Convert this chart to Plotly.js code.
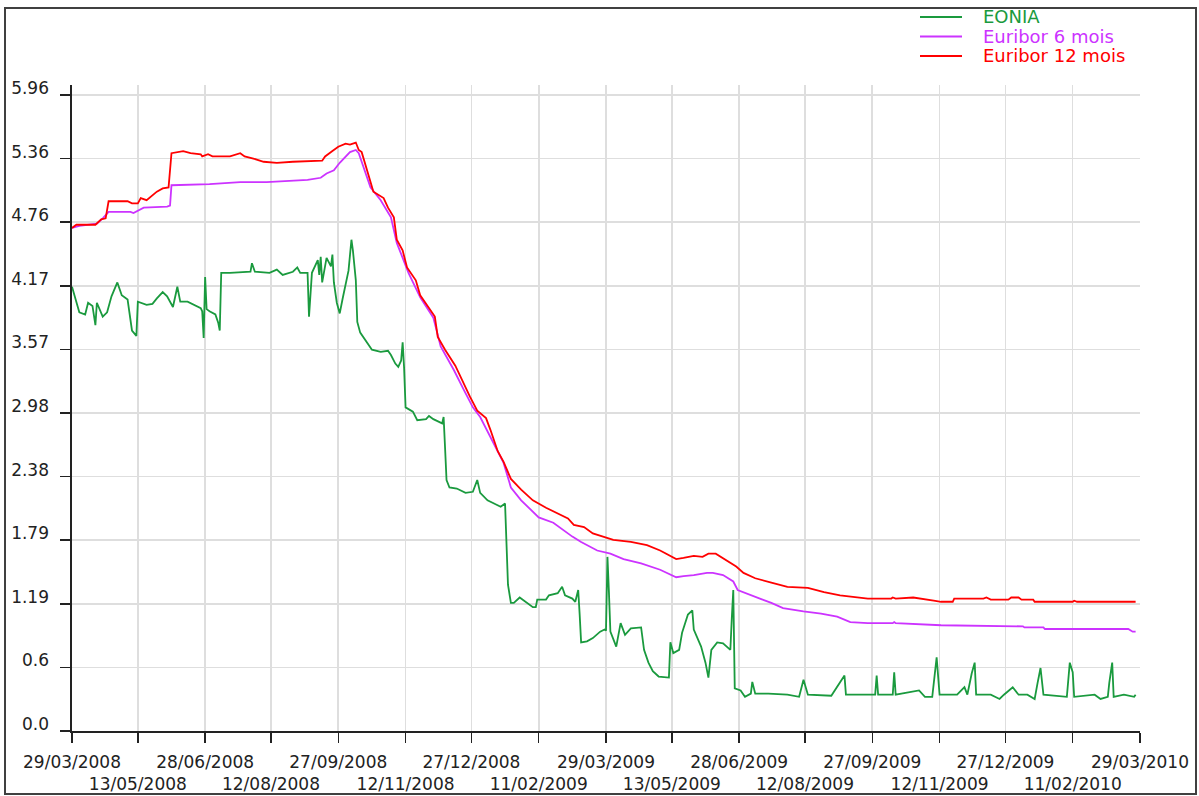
<!DOCTYPE html>
<html>
<head>
<meta charset="utf-8">
<script src="https://cdn.plot.ly/plotly-3.0.1.min.js"></script>
<style>html,body{margin:0;padding:0;background:#fff;}#chart{width:1199px;height:796px;}</style>
</head>
<body>
<div id="chart"></div>
<script>
// ---- data ----
const eoniaDates = ["2008-03-29","2008-03-31","2008-04-03","2008-04-07","2008-04-09","2008-04-12","2008-04-14","2008-04-15","2008-04-19","2008-04-22","2008-04-25","2008-04-29","2008-05-02","2008-05-06","2008-05-09","2008-05-12","2008-05-13","2008-05-19","2008-05-23","2008-05-26","2008-05-30","2008-06-02","2008-06-06","2008-06-09","2008-06-11","2008-06-16","2008-06-20","2008-06-25","2008-06-26","2008-06-27","2008-06-28","2008-06-29","2008-07-01","2008-07-05","2008-07-07","2008-07-08","2008-07-09","2008-07-15","2008-07-29","2008-07-30","2008-08-01","2008-08-11","2008-08-16","2008-08-20","2008-08-27","2008-08-30","2008-09-01","2008-09-06","2008-09-07","2008-09-09","2008-09-13","2008-09-14","2008-09-15","2008-09-16","2008-09-19","2008-09-22","2008-09-23","2008-09-24","2008-09-26","2008-09-28","2008-09-30","2008-10-02","2008-10-04","2008-10-06","2008-10-07","2008-10-09","2008-10-10","2008-10-12","2008-10-17","2008-10-20","2008-10-26","2008-10-31","2008-11-02","2008-11-05","2008-11-07","2008-11-09","2008-11-10","2008-11-11","2008-11-12","2008-11-17","2008-11-20","2008-11-26","2008-11-28","2008-12-01","2008-12-07","2008-12-08","2008-12-09","2008-12-10","2008-12-12","2008-12-17","2008-12-23","2008-12-28","2008-12-31","2009-01-02","2009-01-07","2009-01-12","2009-01-16","2009-01-19","2009-01-20","2009-01-21","2009-01-23","2009-01-25","2009-01-29","2009-02-03","2009-02-07","2009-02-09","2009-02-10","2009-02-16","2009-02-18","2009-02-24","2009-02-27","2009-03-01","2009-03-06","2009-03-08","2009-03-10","2009-03-11","2009-03-12","2009-03-16","2009-03-20","2009-03-25","2009-03-28","2009-03-29","2009-03-30","2009-03-31","2009-04-01","2009-04-05","2009-04-08","2009-04-11","2009-04-15","2009-04-22","2009-04-24","2009-04-27","2009-04-30","2009-05-04","2009-05-11","2009-05-12","2009-05-14","2009-05-18","2009-05-20","2009-05-24","2009-05-27","2009-05-28","2009-06-02","2009-06-05","2009-06-07","2009-06-09","2009-06-13","2009-06-17","2009-06-22","2009-06-23","2009-06-24","2009-06-25","2009-06-29","2009-07-02","2009-07-06","2009-07-07","2009-07-09","2009-07-18","2009-07-31","2009-08-08","2009-08-11","2009-08-14","2009-08-30","2009-09-08","2009-09-09","2009-09-29","2009-09-30","2009-10-01","2009-10-11","2009-10-12","2009-10-13","2009-10-29","2009-11-02","2009-11-07","2009-11-10","2009-11-12","2009-11-24","2009-11-29","2009-12-01","2009-12-04","2009-12-06","2009-12-07","2009-12-17","2009-12-23","2009-12-26","2010-01-01","2010-01-05","2010-01-11","2010-01-16","2010-01-18","2010-01-20","2010-01-22","2010-02-07","2010-02-09","2010-02-11","2010-02-12","2010-02-26","2010-03-02","2010-03-07","2010-03-08","2010-03-10","2010-03-11","2010-03-18","2010-03-25","2010-03-26"];
const eoniaValues = [4.16,4.07,3.92,3.90,4.01,3.98,3.80,4.01,3.88,3.92,4.07,4.20,4.08,4.04,3.75,3.70,4.02,3.99,4.00,4.05,4.11,4.07,3.97,4.16,4.02,4.02,3.99,3.96,3.93,3.68,4.25,3.95,3.93,3.90,3.82,3.75,4.29,4.29,4.30,4.38,4.30,4.29,4.32,4.27,4.30,4.34,4.29,4.29,3.88,4.29,4.41,4.27,4.44,4.20,4.43,4.35,4.46,4.20,4.01,3.91,4.05,4.19,4.31,4.60,4.50,4.22,3.83,3.73,3.63,3.57,3.55,3.56,3.52,3.44,3.41,3.47,3.64,3.40,3.03,2.99,2.91,2.92,2.95,2.92,2.88,2.94,2.65,2.35,2.28,2.27,2.23,2.24,2.35,2.23,2.16,2.13,2.10,2.13,1.82,1.37,1.20,1.20,1.25,1.20,1.16,1.16,1.23,1.23,1.27,1.29,1.35,1.27,1.24,1.21,1.32,1.09,0.83,0.84,0.87,0.93,0.95,0.94,1.63,1.30,0.93,0.79,1.01,0.90,0.96,0.97,0.76,0.64,0.56,0.51,0.50,0.83,0.73,0.76,0.92,1.09,1.13,0.95,0.79,0.64,0.50,0.76,0.83,0.82,0.76,1.06,1.32,0.40,0.38,0.32,0.35,0.46,0.35,0.35,0.34,0.32,0.48,0.34,0.33,0.52,0.34,0.34,0.52,0.34,0.34,0.55,0.34,0.38,0.32,0.32,0.69,0.34,0.34,0.41,0.34,0.54,0.64,0.34,0.34,0.30,0.34,0.41,0.34,0.34,0.30,0.45,0.59,0.34,0.32,0.64,0.55,0.32,0.34,0.30,0.32,0.45,0.64,0.32,0.34,0.32,0.34];

const euribor6Dates = ["2008-03-29","2008-04-03","2008-04-15","2008-04-19","2008-04-23","2008-05-08","2008-05-10","2008-05-17","2008-06-02","2008-06-04","2008-06-05","2008-07-01","2008-07-22","2008-08-09","2008-09-06","2008-09-15","2008-09-19","2008-09-24","2008-09-28","2008-10-02","2008-10-05","2008-10-09","2008-10-11","2008-10-12","2008-10-15","2008-10-19","2008-10-26","2008-11-02","2008-11-06","2008-11-14","2008-11-22","2008-12-01","2008-12-06","2008-12-15","2008-12-22","2008-12-28","2009-01-02","2009-01-09","2009-01-18","2009-01-23","2009-01-30","2009-02-11","2009-02-21","2009-03-06","2009-03-12","2009-03-23","2009-04-01","2009-04-10","2009-04-22","2009-05-05","2009-05-16","2009-05-21","2009-05-28","2009-06-06","2009-06-10","2009-06-17","2009-06-24","2009-06-27","2009-07-06","2009-07-14","2009-07-20","2009-07-28","2009-08-11","2009-08-23","2009-09-03","2009-09-12","2009-09-24","2009-10-11","2009-10-12","2009-10-13","2009-11-13","2010-01-08","2010-01-09","2010-01-22","2010-01-23","2010-03-21","2010-03-24","2010-03-26"];
const euribor6Values = [4.71,4.73,4.75,4.80,4.86,4.86,4.85,4.90,4.91,4.92,5.11,5.12,5.14,5.14,5.16,5.18,5.22,5.25,5.32,5.38,5.42,5.44,5.41,5.37,5.25,5.09,4.97,4.81,4.57,4.29,4.06,3.87,3.60,3.38,3.19,3.03,2.94,2.75,2.51,2.28,2.16,2.00,1.95,1.82,1.77,1.69,1.66,1.61,1.57,1.51,1.44,1.45,1.46,1.48,1.48,1.46,1.40,1.32,1.27,1.23,1.20,1.15,1.12,1.10,1.07,1.02,1.01,1.01,1.02,1.01,0.99,0.98,0.97,0.97,0.955,0.955,0.93,0.93];

const euribor12Dates = ["2008-03-29","2008-04-01","2008-04-14","2008-04-18","2008-04-21","2008-04-23","2008-05-06","2008-05-09","2008-05-13","2008-05-15","2008-05-19","2008-05-23","2008-05-26","2008-05-30","2008-06-03","2008-06-05","2008-06-13","2008-06-18","2008-06-25","2008-06-26","2008-06-30","2008-07-03","2008-07-15","2008-07-22","2008-07-25","2008-07-31","2008-08-07","2008-08-16","2008-08-27","2008-09-16","2008-09-18","2008-09-23","2008-09-27","2008-10-02","2008-10-05","2008-10-09","2008-10-11","2008-10-13","2008-10-15","2008-10-18","2008-10-21","2008-10-28","2008-10-31","2008-11-04","2008-11-06","2008-11-10","2008-11-13","2008-11-19","2008-11-22","2008-11-30","2008-12-02","2008-12-04","2008-12-09","2008-12-16","2008-12-21","2008-12-26","2008-12-31","2009-01-06","2009-01-09","2009-01-14","2009-01-18","2009-01-23","2009-01-30","2009-02-07","2009-02-16","2009-02-24","2009-03-03","2009-03-07","2009-03-14","2009-03-20","2009-03-25","2009-04-03","2009-04-15","2009-04-26","2009-05-05","2009-05-16","2009-05-21","2009-05-28","2009-06-03","2009-06-07","2009-06-12","2009-06-17","2009-06-26","2009-07-01","2009-07-09","2009-07-20","2009-07-31","2009-08-14","2009-08-25","2009-09-05","2009-09-24","2009-10-10","2009-10-11","2009-10-13","2009-10-25","2009-11-08","2009-11-13","2009-11-21","2009-11-22","2009-12-12","2009-12-14","2009-12-17","2009-12-29","2009-12-31","2010-01-05","2010-01-07","2010-01-15","2010-01-16","2010-02-11","2010-02-12","2010-02-14","2010-03-26"];
const euribor12Values = [4.71,4.74,4.74,4.79,4.80,4.96,4.96,4.94,4.94,4.99,4.97,5.02,5.05,5.08,5.09,5.41,5.43,5.41,5.40,5.38,5.40,5.38,5.38,5.41,5.38,5.36,5.33,5.32,5.33,5.34,5.38,5.43,5.47,5.50,5.49,5.51,5.44,5.42,5.32,5.19,5.05,4.99,4.90,4.81,4.60,4.50,4.34,4.22,4.08,3.92,3.88,3.69,3.57,3.42,3.27,3.13,3.00,2.93,2.82,2.62,2.52,2.36,2.26,2.16,2.09,2.04,1.99,1.93,1.91,1.85,1.83,1.79,1.77,1.74,1.69,1.61,1.62,1.64,1.63,1.66,1.66,1.62,1.54,1.48,1.43,1.39,1.35,1.34,1.30,1.27,1.24,1.24,1.25,1.24,1.25,1.22,1.21,1.21,1.24,1.24,1.25,1.23,1.23,1.25,1.25,1.23,1.23,1.21,1.21,1.22,1.21,1.21];

const seriesNames = ["EONIA", "Euribor 6 mois", "Euribor 12 mois"];
const seriesColors = ["#1a9a3e", "#cc33ff", "#ff0000"];

const yTickValues = [0, 0.5955, 1.191, 1.7865, 2.382, 2.9775, 3.573, 4.1685, 4.764, 5.3595, 5.955];
const yTickLabels = ["0.0", "0.6", "1.19", "1.79", "2.38", "2.98", "3.57", "4.17", "4.76", "5.36", "5.96"];
const xTickLabels = ["29/03/2008","13/05/2008","28/06/2008","12/08/2008","27/09/2008","12/11/2008","27/12/2008","11/02/2009","29/03/2009","13/05/2009","28/06/2009","12/08/2009","27/09/2009","12/11/2009","27/12/2009","11/02/2010","29/03/2010"];

// ---- build ----
function toIso(lbl) { const p = lbl.split("/"); return p[2] + "-" + p[1] + "-" + p[0]; }
const xTickVals = xTickLabels.map(toIso);
const xTickText = xTickLabels.map((l, i) => (i % 2 === 1 ? "<br>" + l : l));

const FONT = "DejaVu Sans, Verdana, sans-serif";
const PW = 1068, PH = 646;
const px = v => (v - 72) / PW;     // page pixel -> paper x
const py = v => (731 - v) / PH;    // page pixel -> paper y

const xs = [eoniaDates, euribor6Dates, euribor12Dates];
const ys = [eoniaValues, euribor6Values, euribor12Values];
const traces = seriesNames.map((n, i) => ({
  type: "scatter", mode: "lines",
  x: xs[i], y: ys[i], name: n,
  line: { color: seriesColors[i], width: 1.8 },
  hoverinfo: "x+y"
}));

// legend (line sample + coloured label per series)
const legendShapes = seriesNames.map((n, i) => ({
  type: "line", xref: "paper", yref: "paper",
  x0: px(920), x1: px(962), y0: py(17 + i * 19.5), y1: py(17 + i * 19.5),
  line: { color: seriesColors[i], width: 1.8 }
}));
const legendAnnotations = seriesNames.map((n, i) => ({
  xref: "paper", yref: "paper", x: px(981), y: py(17 + i * 19.5),
  xanchor: "left", yanchor: "middle", showarrow: false, text: n,
  font: { family: FONT, size: 18, color: seriesColors[i] }
}));

const layout = {
  width: 1199, height: 796,
  margin: { l: 72, r: 59, t: 85, b: 65, pad: 0 },
  paper_bgcolor: "#ffffff", plot_bgcolor: "#ffffff",
  font: { family: FONT, size: 17, color: "#222222" },
  showlegend: false,
  xaxis: {
    type: "date",
    range: [xTickVals[0], xTickVals[xTickVals.length - 1]],
    tickmode: "array", tickvals: xTickVals, ticktext: xTickText,
    tickangle: 0,
    showgrid: true, gridcolor: "#dedede", gridwidth: 1.6,
    showline: true, linecolor: "#222222", linewidth: 1.6,
    ticks: "outside", ticklen: 10, tickwidth: 1.5, tickcolor: "#222222",
    ticklabelstandoff: 5,
    tickfont: { family: FONT, size: 17, color: "#222222" },
    zeroline: false, fixedrange: true
  },
  yaxis: {
    range: [0, 5.955 * 646 / 636],
    tickmode: "array", tickvals: yTickValues, ticktext: yTickLabels,
    showgrid: true, gridcolor: "#dedede", gridwidth: 1.6,
    showline: true, linecolor: "#222222", linewidth: 1.6,
    ticks: "outside", ticklen: 10, tickwidth: 1.5, tickcolor: "#222222",
    ticklabelstandoff: 8, ticklabelshift: -7,
    tickfont: { family: FONT, size: 17, color: "#222222" },
    zeroline: false, fixedrange: true
  },
  annotations: legendAnnotations,
  shapes: [
    { type: "rect", xref: "paper", yref: "paper",
      x0: px(5), x1: px(1196), y0: py(794), y1: py(8),
      line: { color: "#404040", width: 2 }, fillcolor: "rgba(0,0,0,0)", layer: "above" },
    { type: "line", xref: "paper", yref: "y", x0: px(62), x1: 0, y0: 0, y1: 0,
      line: { color: "#222222", width: 1.6 } }
  ].concat(legendShapes)
};

Plotly.newPlot("chart", traces, layout, { staticPlot: true, displayModeBar: false });
</script>
</body>
</html>
